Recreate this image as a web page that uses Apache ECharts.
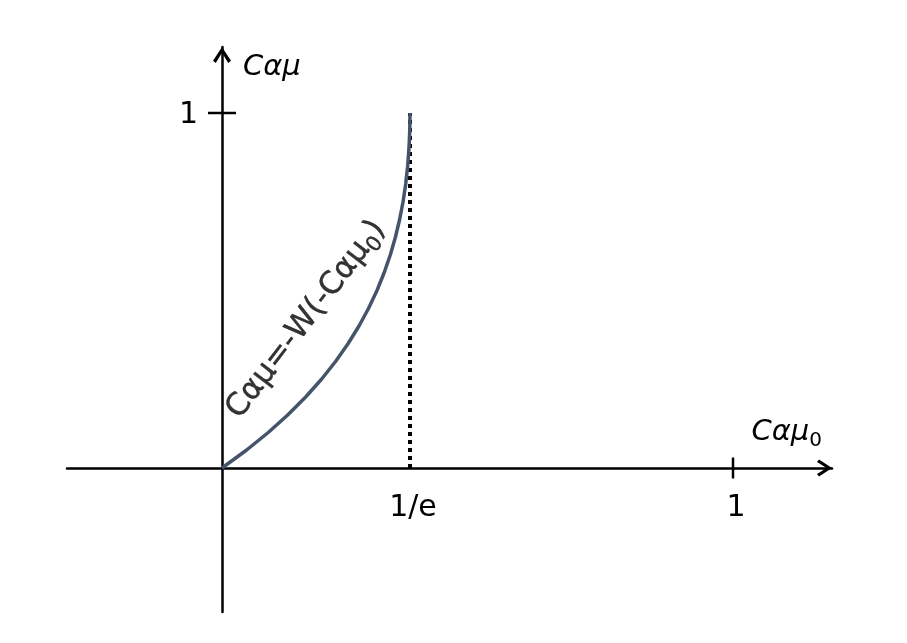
<!DOCTYPE html>
<html>
<head>
<meta charset="utf-8">
<script src="https://cdn.jsdelivr.net/npm/echarts@6/dist/echarts.min.js"></script>
<style>
html,body{margin:0;padding:0;background:#fff;}
#chart{width:907px;height:643px;}
</style>
</head>
<body>
<div id="chart"></div>
<script>
// Curve Cαμ = -W(-Cαμ0)
var curveX = [0, 0.0476, 0.0905, 0.1291, 0.1637, 0.1947, 0.2222, 0.2466, 0.2681, 0.2869, 0.3033, 0.3173, 0.3293, 0.3393, 0.3476, 0.3543, 0.3595, 0.3633, 0.3659, 0.3674, 0.3679];
var curveY = [0, 0.05, 0.10, 0.15, 0.20, 0.25, 0.30, 0.35, 0.40, 0.45, 0.50, 0.55, 0.60, 0.65, 0.70, 0.75, 0.80, 0.85, 0.90, 0.95, 1.00];
// dotted vertical line at 1/e
var dottedX = [0.3679, 0.3679];
var dottedY = [0, 1];
// tick labels
var xTickValues = [0.3679, 1];
var xTickLabels = ['1/e', '1'];
var yTickValues = [1];
var yTickLabels = ['1'];
// tick marks (crossing the axis)
var xTickMarks = [1];
var yTickMarks = [1];
// curve label anchor
var curveLabelPos = [0.165, 0.418];

var chart = echarts.init(document.getElementById('chart'));
var FONT = 'DejaVu Sans';
var chevron = 'path://M0,13 L8.5,0 L17,13 L14.4,15 L8.5,5.4 L2.6,15 Z';

function zip(a, b) { return a.map(function (v, i) { return [v, b[i]]; }); }

var tickData = xTickMarks.map(function (v) { return [v, 0, 0]; })
  .concat(yTickMarks.map(function (v) { return [0, v, 1]; }));

var labelData = xTickValues.map(function (v, i) { return [v, 0, 0, i]; })
  .concat(yTickValues.map(function (v, i) { return [0, v, 1, i]; }));

var option = {
  backgroundColor: '#ffffff',
  animation: false,
  grid: { left: 67, right: 75, top: 47, bottom: 31, containLabel: false, outerBoundsMode: 'none' },
  xAxis: {
    type: 'value',
    min: -0.3033, max: 1.1937,
    splitLine: { show: false },
    axisTick: { show: false },
    axisLabel: { show: false },
    axisLine: {
      show: true, onZero: true,
      lineStyle: { color: '#000', width: 2.5 },
      symbol: ['none', chevron],
      symbolSize: [17, 15],
      symbolOffset: [0, -7.5]
    },
    name: '{i|Cαμ}{s|0}',
    nameLocation: 'end',
    nameGap: -10,
    nameTextStyle: {
      align: 'right', verticalAlign: 'bottom', padding: [0, 0, 17, 0],
      color: '#000', fontFamily: FONT,
      rich: {
        i: { fontStyle: 'italic', fontSize: 29, color: '#000', fontFamily: FONT },
        s: { fontSize: 20, color: '#000', fontFamily: FONT, padding: [18, 0, 0, 0] }
      }
    }
  },
  yAxis: {
    type: 'value',
    min: -0.4056, max: 1.1859,
    splitLine: { show: false },
    axisTick: { show: false },
    axisLabel: { show: false },
    axisLine: {
      show: true, onZero: true,
      lineStyle: { color: '#000', width: 2.5 },
      symbol: ['none', chevron],
      symbolSize: [18, 16],
      symbolOffset: [0, -8]
    },
    name: 'Cαμ',
    nameLocation: 'end',
    nameGap: -20,
    nameTextStyle: {
      align: 'left', verticalAlign: 'middle', padding: [0, 0, 0, 21],
      color: '#000', fontFamily: FONT, fontStyle: 'italic', fontSize: 29
    }
  },
  series: [
    {
      type: 'line',
      data: zip(curveX, curveY),
      showSymbol: false,
      symbol: 'none',
      smooth: false,
      lineStyle: { color: '#44546A', width: 3.5 },
      z: 3
    },
    {
      type: 'line',
      data: zip(dottedX, dottedY),
      showSymbol: false,
      symbol: 'none',
      lineStyle: { color: '#000', width: 4, type: [4, 4] },
      z: 2
    },
    {
      type: 'custom',
      data: tickData,
      renderItem: function (params, api) {
        var p = api.coord([api.value(0), api.value(1)]);
        var dir = api.value(2);
        var shape = dir === 0
          ? { x1: p[0], y1: p[1] - 10.5, x2: p[0], y2: p[1] + 10.5 }
          : { x1: p[0] - 14, y1: p[1], x2: p[0] + 14, y2: p[1] };
        return { type: 'line', shape: shape, style: { stroke: '#000', lineWidth: 2.5 } };
      },
      silent: true,
      z: 4
    },
    {
      type: 'custom',
      data: labelData,
      renderItem: function (params, api) {
        var p = api.coord([api.value(0), api.value(1)]);
        var dir = api.value(2);
        var idx = api.value(3);
        var isX = dir === 0;
        return {
          type: 'text',
          x: isX ? p[0] + 3 : p[0] - 24,
          y: isX ? p[1] + 40 : p[1] + 2,
          style: {
            text: isX ? xTickLabels[idx] : yTickLabels[idx],
            fill: '#000',
            font: '30px "DejaVu Sans"',
            align: isX ? 'center' : 'right',
            verticalAlign: 'middle'
          }
        };
      },
      silent: true,
      z: 4
    },
    {
      type: 'scatter',
      data: [curveLabelPos],
      symbolSize: 1,
      itemStyle: { color: 'rgba(0,0,0,0)' },
      label: {
        show: true,
        position: 'inside',
        rotate: 52.5,
        color: '#000',
        formatter: '{a|Cαμ=-W(-Cαμ}{b|0}{a|)}',
        rich: {
          a: { fontSize: 31, color: '#000', fontFamily: FONT, textBorderColor: '#000', textBorderWidth: 0.4 },
          b: { fontSize: 21, color: '#000', fontFamily: FONT, padding: [18, 0, 0, 0], textBorderColor: '#000', textBorderWidth: 0.4 }
        }
      },
      silent: true,
      z: 5
    }
  ]
};
chart.setOption(option);
</script>
</body>
</html>
